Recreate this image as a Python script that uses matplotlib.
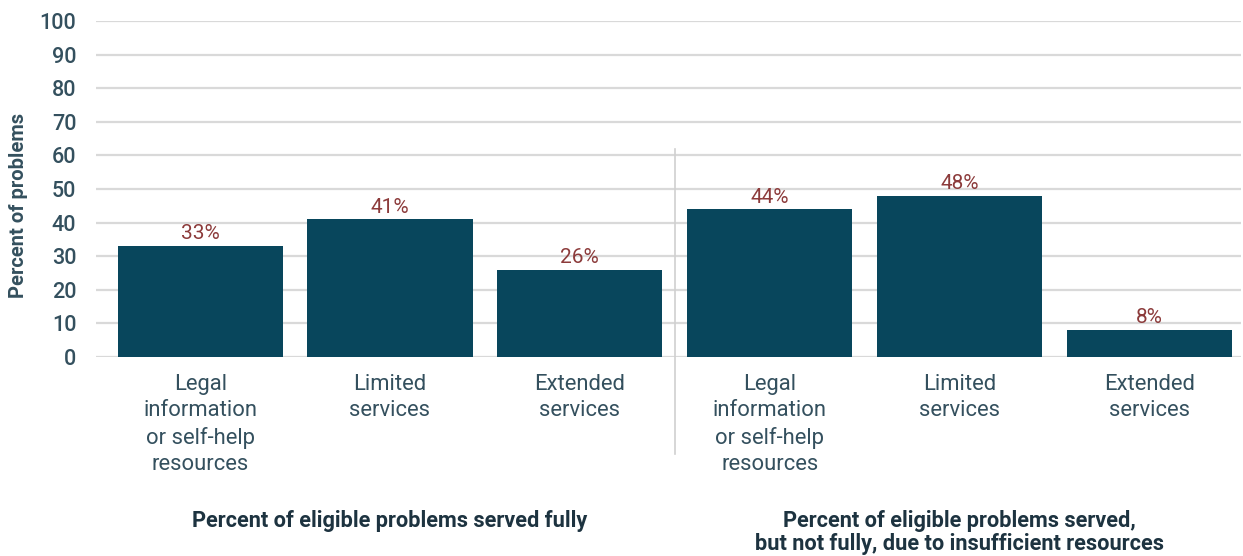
import numpy as np
import matplotlib
matplotlib.use('agg')
import matplotlib.pyplot as plt

plt.rcParams['font.family'] = ['Roboto', 'DejaVu Sans']

# data
categories = ['Legal\ninformation\nor self-help\nresources', 'Limited\nservices', 'Extended\nservices',
              'Legal\ninformation\nor self-help\nresources', 'Limited\nservices', 'Extended\nservices']
values = [33, 41, 26, 44, 48, 8]
group_titles = ['Percent of eligible problems served fully',
                'Percent of eligible problems served,\nbut not fully, due to insufficient resources']
yticks = list(range(0, 101, 10))

bar_color = '#08465c'
label_color = '#8c3b3b'
text_color = '#34505e'

fig = plt.figure(figsize=(12.43, 5.56), dpi=100)
ax = fig.add_axes([0.077, 0.358, 0.921, 0.604])

x = np.arange(len(values))
ax.bar(x, values, width=0.87, color=bar_color, zorder=3)
for xi, v in zip(x, values):
    ax.text(xi, v + 0.8, '%d%%' % v, ha='center', va='bottom', color=label_color, fontsize=15)

ax.set_ylim(0, 100)
ax.set_xlim(-0.55, 5.48)
ax.set_yticks(yticks)
ax.set_yticklabels([str(t) for t in yticks], fontsize=15.5, color=text_color, fontweight='medium')
ax.set_xticks(x)
ax.set_xticklabels(categories, fontsize=15.8, color=text_color, linespacing=1.34)
ax.tick_params(length=0)
ax.tick_params(axis='x', pad=12)
ax.tick_params(axis='y', pad=14)
ax.yaxis.grid(True, color='#d9d9d9', linewidth=1.6, zorder=0)
ax.set_axisbelow(True)
for s in ax.spines.values():
    s.set_visible(False)

ax.set_ylabel('Percent of problems', fontsize=14.5, fontweight='bold', color=text_color)
ax.yaxis.set_label_coords(-0.059, 0.45)

# divider between the two groups
ax.plot([2.5, 2.5], [62, -29], color='#d0d0d0', linewidth=1.2, clip_on=False, zorder=1)

# group titles
ax.text(1, -45.5, group_titles[0], ha='center', va='top', fontsize=15.7, fontweight='bold',
        color='#1d3340', clip_on=False)
ax.text(4, -45.5, group_titles[1], ha='center', va='top', fontsize=15.7, fontweight='bold',
        color='#1d3340', clip_on=False, linespacing=1.1)

fig.savefig('out.png', dpi=100)
